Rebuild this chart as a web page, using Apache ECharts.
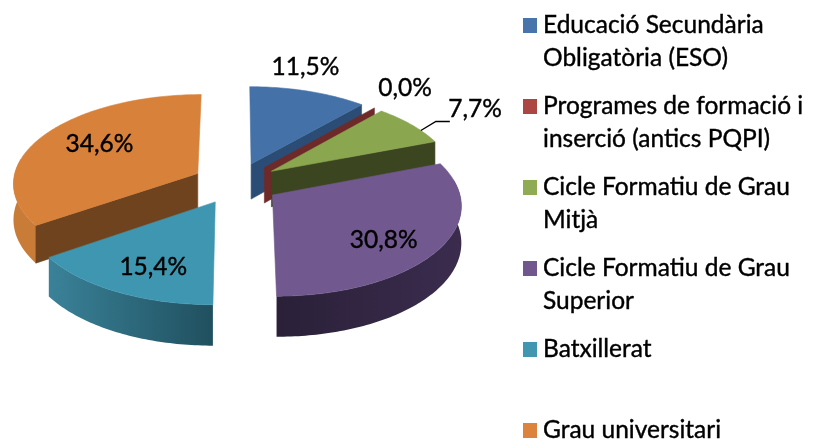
<!DOCTYPE html>
<html><head><meta charset="utf-8">
<style>html,body{margin:0;padding:0;background:#fff}#c{width:817px;height:439px}</style>
<script src="https://cdn.jsdelivr.net/npm/echarts@6/dist/echarts.min.js"></script>
</head><body><div id="c"></div>
<script>
// --- data ---
const categories = ['Educació Secundària Obligatòria (ESO)','Programes de formació i inserció (antics PQPI)','Cicle Formatiu de Grau Mitjà','Cicle Formatiu de Grau Superior','Batxillerat','Grau universitari'];
const legendLines = ['Educació Secundària\nObligatòria (ESO)','Programes de formació i\ninserció (antics PQPI)','Cicle Formatiu de Grau\nMitjà','Cicle Formatiu de Grau\nSuperior','Batxillerat\n\u00a0','Grau universitari\n\u00a0'];
const values = [11.5,0.0,7.7,30.8,15.4,34.6];
// --- style ---
const legendColors = ['#4674ab','#ab4643','#8fac55','#72578f','#4197b0','#dc843d'];
const topColors = ['#4472a8','#7a2e2c','#8aa64f','#71588f','#3e96b0','#d7813a'];
const faceColors = ['#2b4d75','#6e2a29','#3b4620','#2f2340','#21505f','#70431f'];
const wallColors = [['#2b4d75','#2b4d75'],['#6e2a29','#6e2a29'],['#3b4620','#3b4620'],['#3b2c4e','#2a2038'],['#3a8299','#20505f'],['#c97c38','#c97c38']];
const seriesZ = [2,3,4,5,6,1];
// label placement, as multiples of the horizontal / vertical radius along the slice's mid angle
const labelReach = [[.83,1.17],[1.15,1.2],[1.34,1.23],[.73,.9],[.72,.83],[.6,.7]];
// --- projection ---
const Cx=236, Cy=183, Rx=185, Ry=88.5, K=.1, DEPTH=36, EXPLODE=.236, LABEL_DROP=0;
const FONT='Lato', FONT_SIZE=24.5;
const rad=d=>d*Math.PI/180;
const total=values.reduce((a,b)=>a+b,0);
function span(i){let s=0;for(let j=0;j<i;j++)s+=values[j];return [s/total*360,(s+values[i])/total*360];}
function proj(X,Y,Z){const s=1/(1-K*Y);return [Cx+Rx*X*s,Cy+Ry*Y*s+Z*s];}
function pt(i,r,t,Z){const [a,b]=span(i),m=rad((a+b)/2),T=rad(t);
  return proj(EXPLODE*Math.sin(m)+r*Math.sin(T),-EXPLODE*Math.cos(m)-r*Math.cos(T),Z);}
function arc(i,a,b,Z){const p=[],n=Math.max(1,Math.ceil(Math.abs(b-a)));for(let k=0;k<=n;k++)p.push(pt(i,1,a+(b-a)*k/n,Z));return p;}
function poly(points,fill){return {type:'polygon',shape:{points},style:{fill,stroke:typeof fill==='string'?fill:null,lineWidth:.6}};}
function render(i){return function(params,api){
  const v=api.value(0),[a,b]=span(i),kids=[];
  const mid=(a+b)/2,sm=Math.sin(rad(mid)),cm=Math.cos(rad(mid));
  const wa=Math.max(a,80),wb=Math.min(b,280);
  if(wb>wa){const top=arc(i,wa,wb,0),bot=arc(i,wa,wb,DEPTH).reverse();
    kids.push(poly(top.concat(bot),{type:'linear',x:i===4?0:1,y:0,x2:i===4?1:0,y2:0,colorStops:[{offset:0,color:wallColors[i][0]},{offset:1,color:wallColors[i][1]}]}));}
  const face=t=>poly([pt(i,0,0,0),pt(i,1,t,0),pt(i,1,t,DEPTH),pt(i,0,0,DEPTH)],faceColors[i]);
  if(Math.sin(rad(b))>0.01)kids.push(face(b));
  if(Math.sin(rad(a))<-0.01)kids.push(face(a));
  if(b>a)kids.push(poly([pt(i,0,0,0)].concat(arc(i,a,b,0)),topColors[i]));
  const ap=pt(i,0,0,0);
  if(i===2){const r=pt(i,1,mid+5,0);
    kids.push({type:'polyline',shape:{points:[r,[r[0]+15,r[1]-9],[r[0]+29,r[1]-9]]},style:{stroke:'#000',lineWidth:1.4,fill:null}});}
  kids.push({type:'text',z2:10,style:{text:v.toFixed(1).replace('.',',')+'%',
    x:ap[0]+labelReach[i][0]*Rx*sm,y:ap[1]-labelReach[i][1]*Ry*cm+LABEL_DROP,
    align:'center',verticalAlign:'middle',fontFamily:FONT,fontSize:FONT_SIZE,fill:'#000',stroke:'#000',lineWidth:.4}});
  return {type:'group',children:kids};
};}
const chart=echarts.init(document.getElementById('c'),null,{renderer:'canvas'});
chart.setOption({
  animation:false,backgroundColor:'#fff',
  legend:{orient:'vertical',left:523,top:9,height:640,padding:0,itemGap:16,itemWidth:15,itemHeight:65,
    icon:'path://M0,9h14v15h-14zM0,0h0M15,65h0',selectedMode:false,data:categories,
    formatter:n=>legendLines[categories.indexOf(n)],
    textStyle:{fontFamily:FONT,fontSize:FONT_SIZE,color:'#000',lineHeight:32.5,textBorderColor:'#000',textBorderWidth:.4}},
  series:categories.map((name,i)=>({type:'custom',name,coordinateSystem:'none',z:seriesZ[i],
    itemStyle:{color:legendColors[i]},clip:false,renderItem:render(i),data:[[values[i]]]}))
});
</script></body></html>
